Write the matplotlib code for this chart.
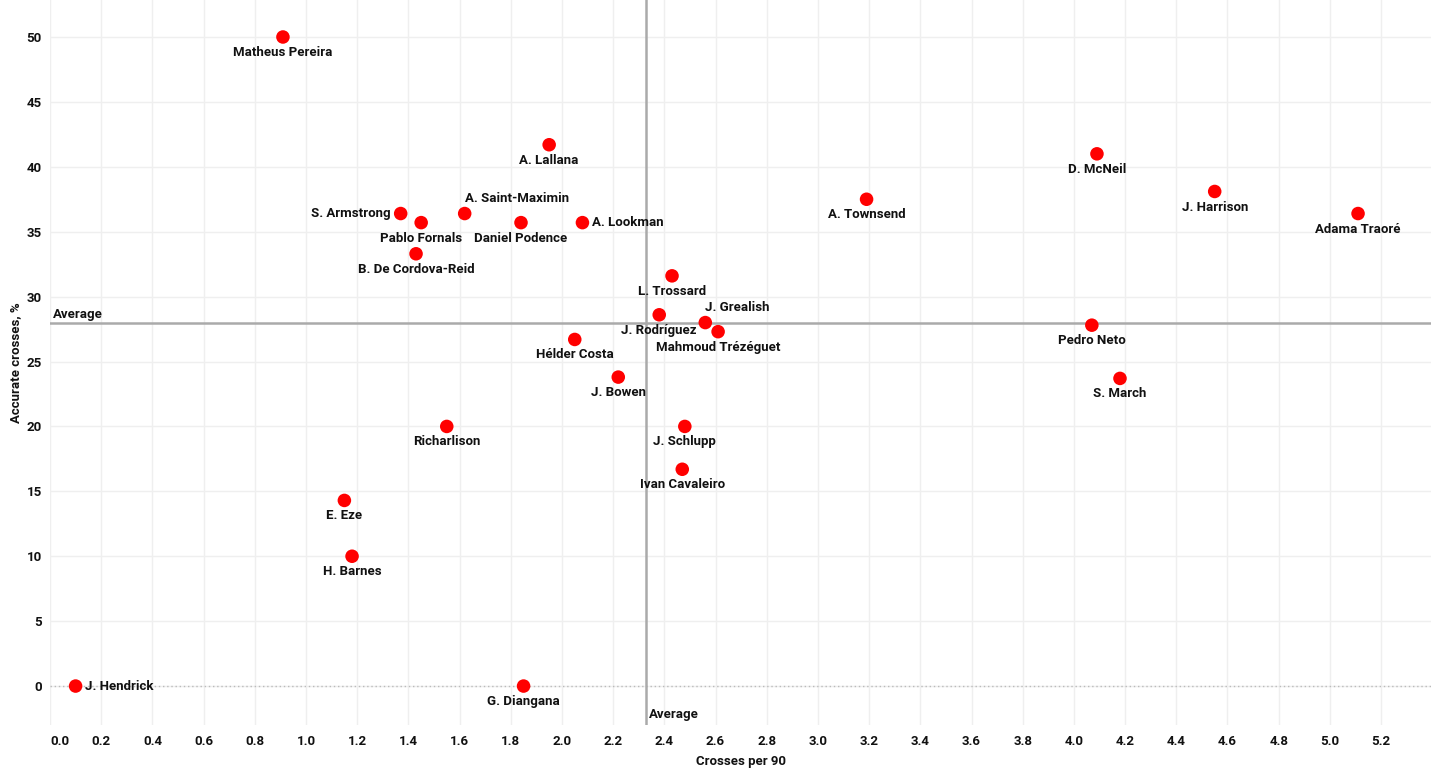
#!/usr/bin/env python3
"""Crosses per 90 vs accurate crosses scatter."""

import matplotlib
matplotlib.use("Agg")
import matplotlib.pyplot as plt
import numpy as np

players = [
    "Matheus Pereira", "A. Lallana", "D. McNeil", "J. Harrison", "Adama Traoré",
    "A. Townsend", "S. Armstrong", "Pablo Fornals", "A. Saint-Maximin",
    "Daniel Podence", "A. Lookman", "B. De Cordova-Reid", "L. Trossard",
    "J. Rodríguez", "J. Grealish", "Mahmoud Trézéguet", "Hélder Costa",
    "Pedro Neto", "J. Bowen", "S. March", "Richarlison", "J. Schlupp",
    "Ivan Cavaleiro", "E. Eze", "H. Barnes", "J. Hendrick", "G. Diangana",
]
crosses_per_90 = [
    0.91, 1.95, 4.09, 4.55, 5.11,
    3.19, 1.37, 1.45, 1.62,
    1.84, 2.08, 1.43, 2.43,
    2.38, 2.56, 2.61, 2.05,
    4.07, 2.22, 4.18, 1.55, 2.48,
    2.47, 1.15, 1.18, 0.10, 1.85,
]
accurate_pct = [
    50.0, 41.7, 41.0, 38.1, 36.4,
    37.5, 36.4, 35.7, 36.4,
    35.7, 35.7, 33.3, 31.6,
    28.6, 28.0, 27.3, 26.7,
    27.8, 23.8, 23.7, 20.0, 20.0,
    16.7, 14.3, 10.0, 0.0, 0.0,
]
avg_x = 2.33
avg_y = 28.0

# label placement per player
placement = [
    "below", "below", "below", "below", "below",
    "below", "left", "below", "above_right",
    "below", "right", "below", "below",
    "below", "above_right", "below", "below",
    "below", "below", "below", "below", "below",
    "below", "below", "below", "right", "below",
]

FONT = ["Roboto", "DejaVu Sans"]
TXT = "#111111"
FS = 9.5


def main():
    plt.rcParams["font.family"] = FONT
    fig = plt.figure(figsize=(14.31, 7.76), dpi=100)
    ax = fig.add_axes([50 / 1431, 51 / 776, 1381 / 1431, 725 / 776])

    ax.set_xlim(0, 5.395)
    ax.set_ylim(-3.0, 52.85)
    xt = np.round(np.arange(0, 5.21, 0.2), 1)
    ax.set_xticks(xt)
    ax.set_yticks(np.arange(0, 51, 5))
    ax.set_xticklabels([f"{v:.1f}" for v in xt])
    ax.grid(True, color="#efefef", linewidth=1)
    ax.set_axisbelow(True)
    for s in ax.spines.values():
        s.set_visible(False)
    ax.tick_params(length=0, labelsize=FS, labelcolor=TXT)
    ax.tick_params(axis="x", pad=7)
    ax.tick_params(axis="y", pad=6)
    for lab in ax.get_xticklabels() + ax.get_yticklabels():
        lab.set_fontweight("bold")
    ax.get_xticklabels()[0].set_horizontalalignment("left")

    ax.axhline(0, color="#bbbbbb", linewidth=1, linestyle=(0, (1, 2)), zorder=1)
    ax.axhline(avg_y, color="#aaaaaa", linewidth=1.8, zorder=2)
    ax.axvline(avg_x, color="#aaaaaa", linewidth=1.8, zorder=2)
    ax.text(0.01, avg_y + 0.15, "Average", fontsize=FS, fontweight="bold",
            color=TXT, ha="left", va="bottom")
    ax.text(avg_x + 0.01, -2.7, "Average", fontsize=FS, fontweight="bold",
            color=TXT, ha="left", va="bottom")

    ax.scatter(crosses_per_90, accurate_pct, s=95, color="#ff0000",
               edgecolors="none", zorder=4)

    offsets = {
        "below": ((0, -6.5), "center", "top"),
        "above_right": ((0, 6), "left", "bottom"),
        "left": ((-7, 0), "right", "center"),
        "right": ((7, 0), "left", "center"),
    }
    for name, x, y, pos in zip(players, crosses_per_90, accurate_pct, placement):
        off, ha, va = offsets[pos]
        ax.annotate(name, (x, y), xytext=off, textcoords="offset points",
                    ha=ha, va=va, fontsize=FS, fontweight="bold", color=TXT,
                    zorder=5)

    ax.set_xlabel("Crosses per 90", fontsize=FS, fontweight="bold",
                  color=TXT, labelpad=5)
    ax.set_ylabel("Accurate crosses, %", fontsize=FS, fontweight="bold",
                  color=TXT, labelpad=3)

    fig.savefig("out.png", dpi=100, facecolor="white")


if __name__ == "__main__":
    main()
